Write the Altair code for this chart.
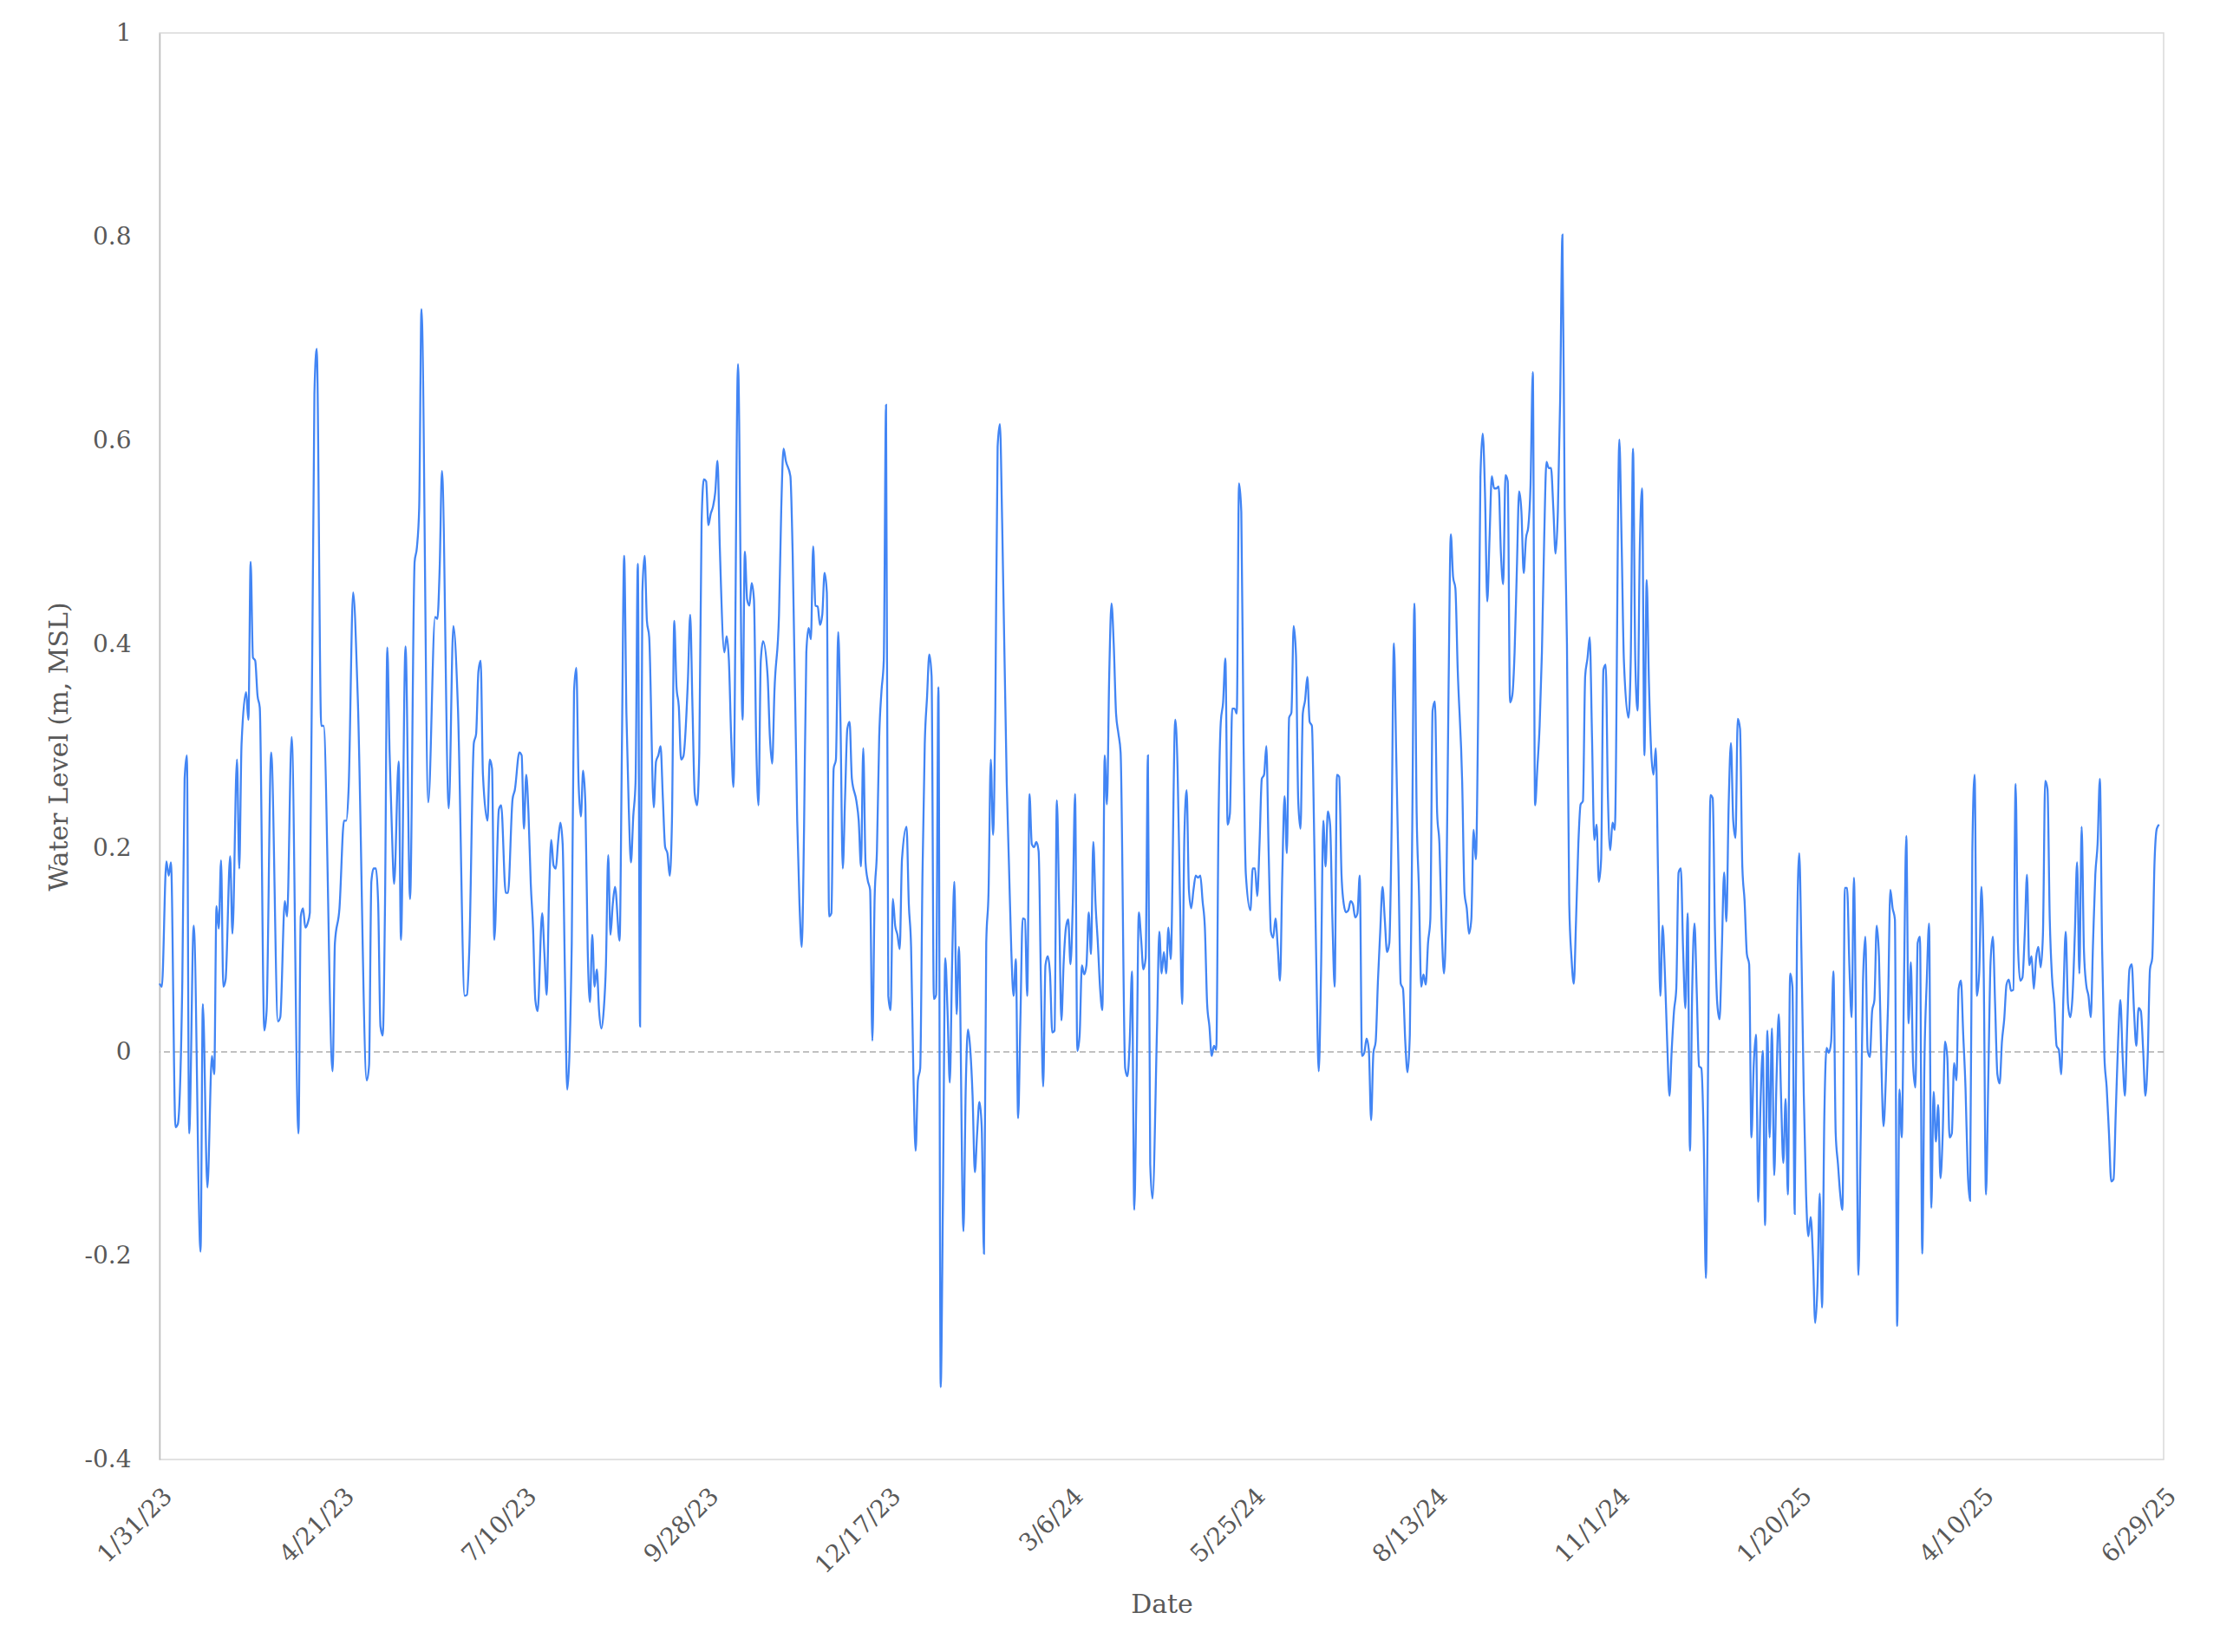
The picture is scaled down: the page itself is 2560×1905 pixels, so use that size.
import altair as alt
import pandas as pd
from datetime import datetime

START = "2023-01-31"
END = "2025-06-29"

# (days after 1/31/23, water level in m MSL)
seg_feb_apr_2023 = [(0,0.067),(1,0.064),(3,0.187),(4,0.173),(5,0.186),(7,-0.074),(8,-0.071),(10,0.070),(11,0.268),(12,0.291),
    (13,-0.080),(15,0.124),(18,-0.196),(19,0.047),(21,-0.133),(23,-0.004),(24,-0.022),(25,0.143),(26,0.121),(27,0.188),
    (28,0.064),(29,0.071),(31,0.192),(32,0.116),(34,0.287),(35,0.180),(36,0.302),(38,0.353),(39,0.326),(40,0.481),
    (41,0.387),(42,0.384),(43,0.350),(44,0.338),(46,0.021),(47,0.040),(49,0.294),(52,0.030),(53,0.034),(55,0.148),
    (56,0.133),(58,0.309),(61,-0.080),(62,0.133),(63,0.141),(64,0.122),(65,0.126),(66,0.137),(68,0.646),(69,0.690),
    (71,0.320),(72,0.320),(76,-0.019),(77,0.107),(79,0.141),(81,0.227),(82,0.227),(83,0.257),(85,0.451),(87,0.350)]
seg_may_jul_2023 = [(91,-0.028),(92,-0.013),(93,0.167),(94,0.180),(95,0.180),(96,0.145),(97,0.025),(98,0.016),(99,0.145),
    (100,0.397),(101,0.294),(102,0.219),(103,0.165),(105,0.285),(106,0.110),(108,0.398),(110,0.150),(112,0.481),(113,0.495),
    (114,0.534),(115,0.729),(118,0.245),(121,0.427),(122,0.425),(123,0.475),(124,0.570),(127,0.239),(129,0.418),(131,0.339),
    (134,0.055),(135,0.056),(136,0.100),(138,0.303),(139,0.312),(140,0.373),(141,0.384),(142,0.272),(144,0.227),(145,0.287),
    (146,0.278),(147,0.110),(149,0.238),(150,0.242),(152,0.156),(153,0.156),(155,0.248),(156,0.257),(158,0.294),(159,0.291),
    (160,0.219),(161,0.272),(162,0.234),(163,0.165),(164,0.122),(165,0.051),(166,0.040),(168,0.136),(169,0.096),(170,0.056),
    (171,0.152),(172,0.208),(173,0.183),(174,0.180),(175,0.206),(176,0.225),(177,0.204)]
seg_jul_oct_2023 = [(178,0.077),(179,-0.037),(181,0.107),(182,0.354),(183,0.377),(184,0.264),(185,0.231),(186,0.276),(187,0.242),
    (188,0.100),(189,0.049),(190,0.115),(191,0.064),(192,0.081),(193,0.040),(194,0.023),(195,0.040),(196,0.085),(197,0.193),
    (198,0.115),(199,0.145),(200,0.162),(202,0.109),(203,0.294),(204,0.487),(205,0.332),(206,0.242),(207,0.186),(208,0.231),
    (209,0.264),(210,0.479),(211,0.025),(212,0.451),(213,0.487),(214,0.423),(215,0.407),(217,0.240),(218,0.285),(219,0.291),
    (220,0.300),(221,0.249),(222,0.201),(223,0.195),(224,0.173),(225,0.227),(226,0.423),(227,0.358),(228,0.339),(229,0.287),
    (230,0.290),(232,0.365),(233,0.429),(234,0.339),(235,0.253),(236,0.242),(237,0.294),(238,0.519),(239,0.562),(240,0.560),
    (241,0.517),(242,0.528),(243,0.535),(244,0.549),(245,0.580),(246,0.496),(248,0.392),(249,0.408),(250,0.384),(251,0.309),
    (252,0.260),(254,0.675),(256,0.326),(257,0.491),(258,0.444),(259,0.438),(260,0.460),(261,0.444),(262,0.302),(263,0.242)]
seg_oct_2023_jan_2024 = [(264,0.384),(265,0.403),(267,0.369),(268,0.309),(269,0.283),(270,0.354),(272,0.429),(273,0.534),
    (274,0.592),(275,0.580),(277,0.565),(278,0.489),(280,0.227),(281,0.145),(282,0.103),(283,0.219),(284,0.392),(285,0.416),
    (286,0.405),(287,0.496),(288,0.438),(289,0.437),(290,0.419),(291,0.429),(292,0.470),(293,0.451),(294,0.133),(295,0.136),
    (296,0.278),(297,0.287),(298,0.412),(299,0.324),(300,0.180),(301,0.249),(302,0.317),(303,0.324),(304,0.268),(306,0.246),
    (307,0.227),(308,0.182),(309,0.298),(310,0.186),(311,0.168),(312,0.159),(313,0.011),(314,0.152),(315,0.197),(316,0.309),
    (317,0.354),(318,0.384),(319,0.635),(320,0.055),(321,0.041),(322,0.150),(323,0.124),(324,0.115),(325,0.101),(326,0.189),
    (328,0.221),(329,0.145),(330,0.103),(331,-0.020),(332,-0.097),(333,-0.028),(334,-0.016),(335,0.174),(336,0.302),(337,0.348),
    (338,0.390),(339,0.369),(340,0.052),(341,0.056),(342,0.358),(343,-0.329),(344,-0.140),(345,0.092),(346,0.040),(347,-0.030),
    (348,0.085),(349,0.167),(350,0.037),(351,0.103),(353,-0.176),(354,-0.035)]
seg_jan_apr_2024 = [(355,0.022),(356,0.002),(357,-0.043),(358,-0.118),(359,-0.080),(360,-0.049),(361,-0.073),(362,-0.198),
    (363,0.107),(364,0.156),(365,0.287),(366,0.213),(367,0.339),(368,0.594),(369,0.616),(370,0.519),(372,0.264),(373,0.182),
    (374,0.100),(375,0.055),(376,0.091),(377,-0.065),(378,0.032),(379,0.131),(380,0.130),(381,0.055),(382,0.253),(383,0.204),
    (384,0.201),(385,0.206),(386,0.197),(387,0.070),(388,-0.034),(389,0.085),(390,0.094),(391,0.077),(392,0.019),(393,0.021),
    (394,0.247),(395,0.145),(396,0.031),(397,0.088),(398,0.122),(399,0.130),(400,0.086),(401,0.145),(402,0.253),(403,0.001),
    (404,0.016),(405,0.085),(406,0.076),(407,0.085),(408,0.137),(409,0.096),(410,0.206),(411,0.145),(412,0.107),(413,0.062),
    (414,0.041),(415,0.291),(416,0.243),(417,0.369),(418,0.440),(419,0.399),(420,0.332),(421,0.313),(422,0.294),(424,-0.016),
    (425,-0.024),(426,0.010),(427,0.079),(428,-0.155),(429,-0.028),(430,0.137),(431,0.111),(432,0.081),(433,0.092),(434,0.291),
    (435,-0.110),(436,-0.144),(438,0.025),(439,0.118),(440,0.077)]
seg_apr_jul_2024 = [(441,0.098),(442,0.077),(443,0.122),(444,0.091),(446,0.326),(447,0.279),(448,0.159),(449,0.047),(450,0.212),
    (451,0.257),(452,0.159),(453,0.141),(454,0.159),(455,0.173),(456,0.171),(457,0.173),(458,0.148),(459,0.122),(460,0.047),
    (461,0.025),(462,-0.004),(463,0.006),(464,0.002),(465,0.227),(466,0.324),(467,0.343),(468,0.386),(469,0.223),(470,0.234),
    (471,0.337),(472,0.337),(473,0.332),(474,0.558),(475,0.530),(476,0.302),(477,0.174),(479,0.139),(480,0.180),(481,0.180),
    (482,0.153),(483,0.204),(484,0.268),(485,0.272),(486,0.300),(487,0.197),(488,0.118),(489,0.112),(490,0.131),(491,0.103),
    (492,0.070),(493,0.174),(494,0.251),(495,0.195),(496,0.328),(497,0.333),(498,0.418),(499,0.390),(500,0.246),(501,0.219),
    (502,0.332),(503,0.345),(504,0.368),(505,0.324),(506,0.320),(507,0.212),(508,0.077),(509,-0.019),(510,0.077),(511,0.227),
    (512,0.182),(513,0.236),(514,0.223),(515,0.130),(516,0.064),(517,0.272),(518,0.270),(519,0.174),(520,0.145),(521,0.137),
    (522,0.139),(523,0.148),(524,0.145),(525,0.132),(526,0.136),(527,0.173),(528,-0.004),(529,-0.001),(530,0.013),(531,0.002)]
seg_jul_oct_2024 = [(532,-0.067),(533,-0.001),(534,0.010),(535,0.070),(536,0.118),(537,0.162),(538,0.130),(539,0.098),
    (540,0.107),(541,0.219),(542,0.401),(543,0.294),(544,0.182),(545,0.067),(546,0.062),(547,0.010),(548,-0.020),(549,0.017),
    (550,0.204),(551,0.440),(552,0.234),(553,0.159),(554,0.064),(555,0.076),(556,0.066),(557,0.107),(558,0.130),(559,0.335),
    (560,0.344),(561,0.234),(562,0.204),(563,0.122),(564,0.077),(565,0.145),(566,0.354),(567,0.508),(568,0.466),(569,0.455),
    (570,0.377),(572,0.264),(573,0.156),(574,0.141),(575,0.116),(576,0.130),(577,0.218),(578,0.189),(579,0.332),(580,0.564),
    (581,0.607),(582,0.549),(583,0.442),(584,0.504),(585,0.565),(586,0.553),(587,0.553),(588,0.555),(589,0.489),(590,0.459),
    (591,0.566),(592,0.560),(593,0.343),(594,0.350),(595,0.392),(596,0.474),(597,0.550),(598,0.530),(599,0.470),(600,0.504),
    (601,0.515),(602,0.556),(603,0.667),(604,0.242),(605,0.279),(606,0.320),(607,0.392),(608,0.504),(609,0.579),(610,0.573),
    (611,0.573),(612,0.534),(613,0.489),(614,0.530),(615,0.639),(616,0.802),(617,0.534),(618,0.400)]
seg_oct_2024_jan_2025 = [(619,0.145),(620,0.092),(621,0.067),(622,0.130),(623,0.204),(624,0.243),(625,0.246),(626,0.369),
    (627,0.386),(628,0.407),(629,0.309),(630,0.208),(631,0.223),(632,0.167),(633,0.189),(634,0.375),(635,0.380),(636,0.249),
    (637,0.198),(638,0.225),(639,0.218),(641,0.601),(642,0.500),(643,0.384),(645,0.328),(646,0.384),(647,0.592),(648,0.384),
    (649,0.335),(650,0.496),(651,0.553),(652,0.291),(653,0.463),(654,0.362),(655,0.294),(656,0.272),(657,0.298),(658,0.174),
    (659,0.055),(660,0.124),(661,0.077),(662,0.010),(663,-0.043),(664,0.002),(665,0.040),(666,0.062),(667,0.176),(668,0.180),
    (669,0.100),(670,0.043),(671,0.136),(672,-0.097),(673,0.062),(674,0.126),(675,0.058),(676,-0.014),(677,-0.016),(678,-0.080),
    (679,-0.222),(680,-0.005),(681,0.252),(682,0.249),(683,0.118),(684,0.047),(685,0.032),(686,0.100),(687,0.176),(688,0.128),
    (689,0.242),(690,0.303),(691,0.227),(692,0.210),(693,0.327),(694,0.317),(695,0.182),(696,0.148),(697,0.096),(698,0.086),
    (699,-0.084),(700,-0.013),(701,0.017),(702,-0.147),(703,-0.050),(704,0.001),(705,-0.170),(706,0.021),(707,-0.084),(708,0.023)]
seg_jan_apr_2025 = [(709,-0.121),(710,-0.028),(711,0.037),(712,-0.043),(713,-0.109),(714,-0.046),(715,-0.140),(716,0.077),
    (717,0.064),(718,-0.159),(719,0.107),(720,0.195),(721,0.092),(722,-0.043),(723,-0.140),(724,-0.181),(725,-0.162),(726,-0.200),
    (727,-0.266),(728,-0.230),(729,-0.139),(730,-0.251),(731,-0.065),(732,0.004),(733,-0.001),(734,0.010),(735,0.079),(736,-0.080),
    (737,-0.110),(738,-0.140),(739,-0.155),(740,0.161),(741,0.161),(742,0.085),(743,0.034),(744,0.171),(745,-0.005),(746,-0.219),
    (747,-0.080),(748,0.070),(749,0.113),(750,0.002),(751,-0.005),(752,0.040),(753,0.051),(754,0.124),(755,0.094),(756,-0.005),
    (757,-0.073),(758,-0.028),(759,0.047),(760,0.159),(761,0.141),(762,0.130),(763,-0.269),(764,-0.037),(765,-0.084),(766,0.070),
    (767,0.212),(768,0.028),(769,0.088),(770,-0.013),(771,-0.035),(772,0.107),(773,0.113),(774,-0.198),(775,-0.005),(776,0.070),
    (777,0.126),(778,-0.153),(779,-0.039),(780,-0.088),(781,-0.052),(782,-0.124),(783,-0.080),(784,0.010),(785,-0.005),(786,-0.084),
    (787,-0.080),(788,-0.011),(789,-0.028),(790,0.062),(791,0.070),(792,0.017),(793,-0.035),(794,-0.118)]
seg_apr_jun_2025 = [(795,-0.146),(796,0.197),(797,0.272),(798,0.055),(799,0.077),(800,0.162),(801,0.077),(802,-0.140),(803,-0.028),
    (804,0.088),(805,0.113),(806,0.047),(807,-0.022),(808,-0.031),(809,0.010),(810,0.032),(811,0.066),(812,0.071),(813,0.060),
    (814,0.061),(815,0.263),(816,0.107),(817,0.070),(818,0.073),(819,0.115),(820,0.174),(821,0.085),(822,0.094),(823,0.062),
    (824,0.092),(825,0.103),(826,0.083),(827,0.115),(828,0.266),(829,0.258),(830,0.130),(831,0.073),(832,0.047),(833,0.006),
    (834,0.002),(835,-0.022),(836,0.055),(837,0.118),(838,0.047),(839,0.034),(840,0.055),(841,0.115),(842,0.186),(843,0.077),
    (844,0.221),(845,0.100),(846,0.066),(847,0.055),(848,0.034),(849,0.107),(850,0.174),(851,0.204),(852,0.268),(853,0.100),
    (854,-0.005),(855,-0.035),(856,-0.080),(857,-0.127),(858,-0.125),(859,-0.058),(860,0.010),(861,0.051),(862,-0.005),
    (863,-0.043),(864,0.025),(865,0.081),(866,0.086),(867,0.040),(868,0.006),(869,0.043),(870,0.040),(871,0.002),(872,-0.043),
    (873,-0.005),(874,0.081),(875,0.092),(876,0.186),(877,0.219),(878,0.223)]

x_tick_labels = ["1/31/23", "4/21/23", "7/10/23", "9/28/23", "12/17/23", "3/6/24",
                 "5/25/24", "8/13/24", "11/1/24", "1/20/25", "4/10/25", "6/29/25"]
y_ticks = [-0.4, -0.2, 0, 0.2, 0.4, 0.6, 0.8, 1]

segments = [seg_feb_apr_2023, seg_may_jul_2023, seg_jul_oct_2023, seg_oct_2023_jan_2024,
            seg_jan_apr_2024, seg_apr_jul_2024, seg_jul_oct_2024, seg_oct_2024_jan_2025,
            seg_jan_apr_2025, seg_apr_jun_2025]

start = pd.Timestamp(START)
rows = []
for seg in segments:
    for d, v in seg:
        rows.append({"date": (start + pd.Timedelta(days=d)).strftime("%Y-%m-%d"), "level": v})
df = pd.DataFrame(rows)


def dt(s, fmt):
    t = datetime.strptime(s, fmt)
    return alt.DateTime(year=t.year, month=t.month, date=t.day, utc=True)


x_values = [dt(s, "%m/%d/%y") for s in x_tick_labels]
x_domain = [dt(START, "%Y-%m-%d"), dt(END, "%Y-%m-%d")]

FONT = "DejaVu Serif"
LABEL_COLOR = "#595959"

x_enc = alt.X(
    "date:T",
    scale=alt.Scale(type="utc", domain=x_domain, nice=False),
    axis=alt.Axis(
        values=x_values,
        labelExpr="utcFormat(datum.value, '%-m/%-d/%y')",
        labelAngle=-45,
        labelFontSize=28,
        labelFont=FONT,
        labelColor=LABEL_COLOR,
        labelPadding=28,
        labelOverlap=False,
        labelFlush=False,
        ticks=False,
        domain=False,
        grid=False,
        title="Date",
        titleFont=FONT,
        titleFontSize=30,
        titleFontWeight="normal",
        titleColor=LABEL_COLOR,
        titlePadding=16,
    ),
)
y_axis = alt.Axis(
    values=y_ticks,
    labelExpr="replace(format(datum.value, '.1~f'), '\u2212', '-')",
    labelFontSize=28,
    labelFont=FONT,
    labelColor=LABEL_COLOR,
    labelPadding=33,
    labelFlush=False,
    ticks=False,
    domain=True,
    domainColor="#BFBFBF",
    domainWidth=1.5,
    grid=False,
    title="Water Level (m, MSL)",
    titleFont=FONT,
    titleFontSize=30,
    titleFontWeight="normal",
    titleColor=LABEL_COLOR,
    titlePadding=14,
)
y_scale = alt.Scale(domain=[-0.4, 1], nice=False, zero=False)

zero_line = alt.Chart(pd.DataFrame({"level": [0]})).mark_rule(
    color="#ADADAD", strokeDash=[7, 4], strokeWidth=1.4
).encode(y=alt.Y("level:Q", scale=y_scale, axis=y_axis))

line = alt.Chart(df).mark_line(
    color="#4285F4", strokeWidth=2.3, interpolate="monotone"
).encode(x=x_enc, y=alt.Y("level:Q", scale=y_scale, axis=y_axis))

chart = alt.layer(zero_line, line).properties(
    width=2311,
    height=1645,
    padding={"left": 176, "top": 30, "right": 57, "bottom": 214},
    autosize=alt.AutoSizeParams(type="none"),
    background="white",
).configure_view(stroke="#D9D9D9", strokeWidth=1.5)

chart.save("out.html", embed_options={"renderer": "svg", "actions": False})
